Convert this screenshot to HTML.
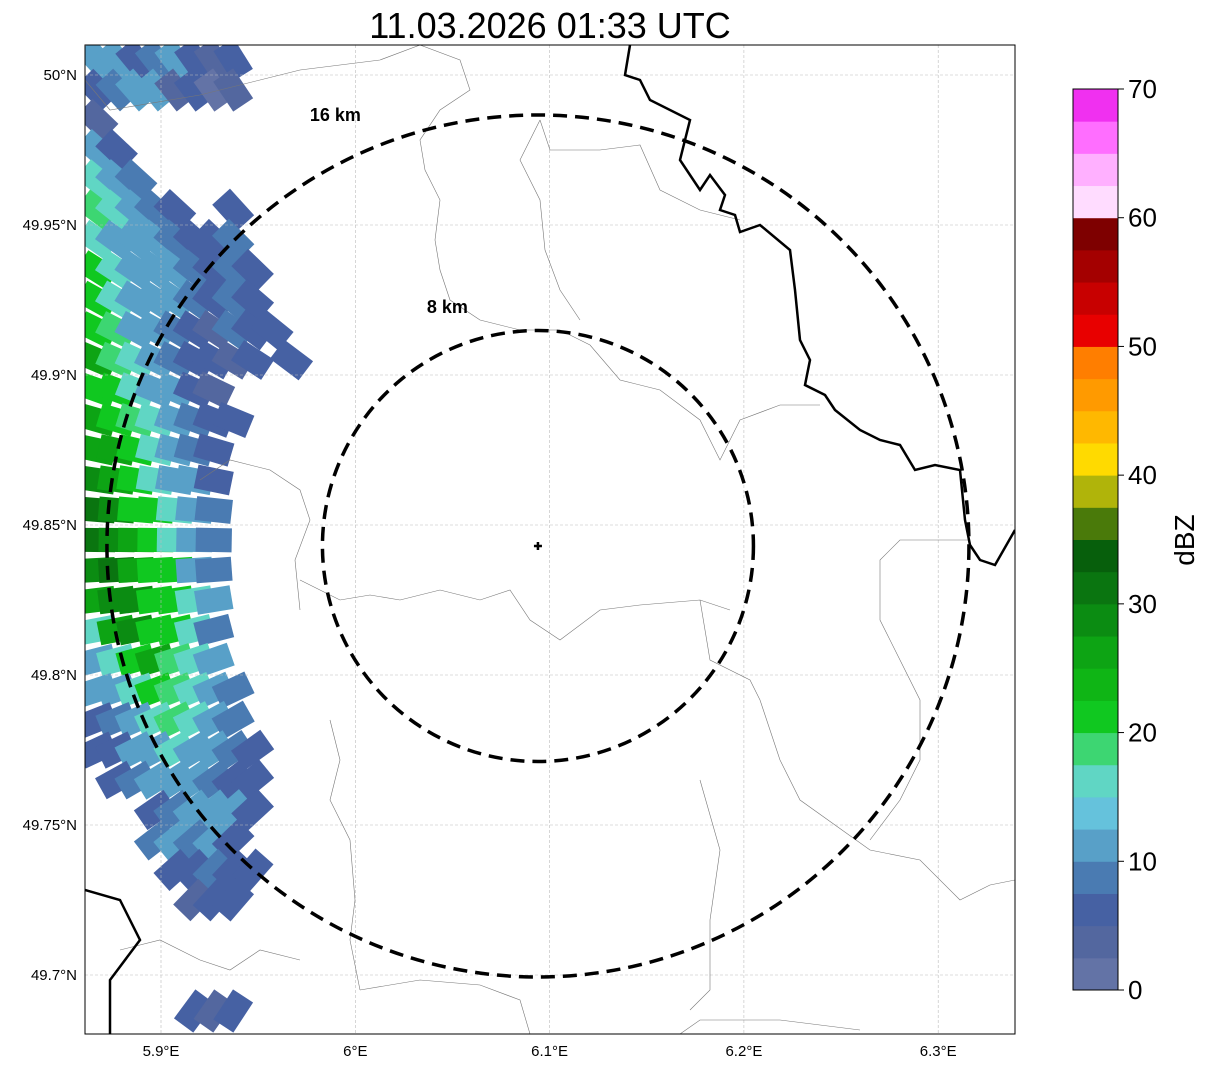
<!DOCTYPE html>
<html><head><meta charset="utf-8"><style>
body{margin:0;background:#fff;width:1207px;height:1069px;overflow:hidden;font-family:"Liberation Sans",sans-serif}
svg{position:absolute;left:0;top:0}
</style></head><body>
<svg id="chart" width="1207" height="1069">
<text x="550" y="38" font-size="36" text-anchor="middle">11.03.2026 01:33 UTC</text>
<defs><clipPath id="mapclip"><rect x="85" y="45" width="930" height="989"/></clipPath></defs>
<g id="map" clip-path="url(#mapclip)"></g>
<rect x="85" y="45" width="930" height="989" fill="none" stroke="#000" stroke-width="1"/>
<g id="axes"></g>
<g id="cbar"></g>
</svg>
<script>
const lonTicks=[5.9,6.0,6.1,6.2,6.3];
const lonLabels=["5.9°E","6°E","6.1°E","6.2°E","6.3°E"];
const latTicks=[50.0,49.95,49.9,49.85,49.8,49.75,49.7];
const latLabels=["50°N","49.95°N","49.9°N","49.85°N","49.8°N","49.75°N","49.7°N"];
const cbarTicks=[0,10,20,30,40,50,60,70];
const cbarColors=["#6373a6","#53679f","#4661a3","#4a7bb2","#58a0c8","#65c2dc","#60d6c4","#3dd672","#10c820","#0fb515","#0da414","#0b8c12","#0a7510","#075f0c","#4a7a0a","#b0b40a","#ffda00","#ffb800","#ff9a00","#ff7e00","#e80000","#c80000","#a40000","#7e0000","#ffdcff","#ffb0ff","#ff6eff","#f030f0"];
const radarLon=6.094, radarLat=49.843;
const ringKm=[16,8];
const ringLabelDx=[-0.47,-0.42];
const ringLabelDy=[-1.0,-1.11];
const rowLats=[50.005,49.995,49.985,49.975,49.965,49.955,49.945,49.935,49.925,49.915,49.905,49.895,49.885,49.875,49.865,49.855,49.845,49.835,49.825,49.815,49.805,49.795,49.785,49.775,49.765,49.755,49.745,49.735,49.725,49.688];
const rowStartLon=5.862;
const rowValues=[
[10,12,5,8,12,5,3,5],
[5,8,12,10,3,5,0,3],
[3,null,null,null,null,null,null,null],
[10,5,null,null,null,null,null],
[15,10,8,null,null,null],
[18,15,10,8,5,null,null,5],
[15,12,10,12,8,5,5,8],
[20,15,12,10,12,8,5,8,5],
[22,15,12,10,12,8,5,8,5],
[22,18,12,10,8,5,3,8,5,5],
[25,18,15,12,8,5,5,3,5,null,5],
[22,20,15,12,10,5,3,null],
[25,22,18,15,10,8,5,5],
[25,25,20,15,12,8,5],
[28,25,22,15,12,10,5],
[30,28,22,20,15,10,8],
[30,28,25,22,15,12,8],
[28,30,25,22,20,12,8],
[25,28,28,22,20,15,10],
[15,25,28,22,20,15,8],
[12,15,22,25,18,15,10],
[10,12,15,22,18,15,10,8],
[5,8,12,15,18,15,12,8],
[5,5,10,12,15,12,12,8,5],
[null,5,8,10,12,12,8,5,5],
[null,null,null,5,8,10,12,10,5],
[null,null,null,8,10,8,10,5],
[null,null,null,null,5,5,8,5,5],
[null,null,null,null,null,3,5,5],
[null,null,null,null,null,5,3,5]
];
const NS="http://www.w3.org/2000/svg";
const X=lon=>161+(lon-5.9)*1943;
const Y=lat=>75+(50-lat)*3000;
const C=v=>cbarColors[Math.max(0,Math.min(27,Math.floor(v/2.5)))];
function mk(tag,attrs,parent){const e=document.createElementNS(NS,tag);for(const k in attrs)e.setAttribute(k,attrs[k]);parent.appendChild(e);return e;}
const map=document.getElementById('map'),axes=document.getElementById('axes'),cb=document.getElementById('cbar');
const cx0=X(radarLon),cy0=Y(radarLat);
rowValues.forEach((row,ri)=>{row.forEach((v,ci)=>{if(v===null)return;
 const x=X(rowStartLon+ci*0.01)+10,y=Y(rowLats[ri]);
 const ang=Math.atan2(y-cy0,x-cx0)*180/Math.PI;
 const r=mk('rect',{x:x-18,y:y-12,width:36,height:24,fill:C(v),transform:`rotate(${ang} ${x} ${y})`},map);
 
 });});
lonTicks.forEach(t=>{const l=mk('line',{x1:X(t),x2:X(t),y1:45,y2:1034,stroke:'#bbb','stroke-width':0.6,'stroke-dasharray':'3,2'},map);});
latTicks.forEach(t=>{const l=mk('line',{x1:85,x2:1015,y1:Y(t),y2:Y(t),stroke:'#bbb','stroke-width':0.6,'stroke-dasharray':'3,2'},map);});
const grayLines=["M85,80 L110,110 L200,95 L300,70 L380,60 L420,45","M420,45 L460,60 L470,90 L440,110 L420,140 L425,170 L440,200 L435,240 L440,270 L450,300 L480,320 L520,330 L560,330 L590,345 L620,380 L660,390 L700,420 L720,460 L740,420 L780,405 L820,405","M540,120 L520,160 L540,200 L545,250 L560,290 L580,320","M540,120 L550,150 L600,150 L640,145 L660,190 L700,210 L740,220","M300,580 L320,590 L340,600 L370,595 L400,600 L440,590 L480,600 L510,590 L530,620 L560,640 L600,610 L640,605 L700,600 L730,610","M300,610 L295,560 L310,520 L300,490 L270,470 L230,460 L200,480","M700,600 L710,660 L750,680 L760,700 L780,760 L800,800 L870,850 L920,860 L960,900 L990,885 L1015,880","M970,540 L900,540 L880,560 L880,620 L900,660 L920,700 L920,760 L900,800 L870,840","M330,720 L340,760 L330,800 L350,840 L355,900 L350,940 L360,990","M360,990 L420,980 L480,985 L520,1000 L530,1034","M120,950 L160,940 L200,960 L230,970 L260,950 L300,960","M700,780 L720,850 L710,920 L710,990 L690,1010","M680,1034 L700,1020 L780,1020 L860,1030"];
grayLines.forEach(d=>{const p=mk('path',{d:d,fill:'none',stroke:'#777','stroke-width':0.6},map);});
const blackLines=["M630,45 L625,75 L640,80 L650,100 L690,120 L680,160 L700,190 L710,175 L725,195 L720,210 L735,215 L740,232 L760,225 L790,250 L795,290 L800,340 L810,360 L805,385 L825,395 L835,410 L860,430 L880,440 L900,445 L915,470 L935,465 L960,470 L965,520 L970,545 L980,560 L995,565 L1015,530","M85,890 L120,900 L140,940 L110,980 L110,1034"];
blackLines.forEach(d=>{const p=mk('path',{d:d,fill:'none',stroke:'#000','stroke-width':2.5},map);});
const pxPerKm=431/16;
ringKm.forEach((k,i)=>{const c=mk('circle',{cx:cx0,cy:cy0,r:k*pxPerKm,fill:'none',stroke:'#000','stroke-width':3.5,'stroke-dasharray':'14,8'},map);
 const t=mk('text',{x:cx0+k*pxPerKm*ringLabelDx[i],y:cy0+k*pxPerKm*ringLabelDy[i]+6,'font-size':18,'font-weight':'bold','text-anchor':'middle'},map);t.textContent=k+' km';});
const cr=mk('path',{d:`M${cx0-4},${cy0} H${cx0+4} M${cx0},${cy0-4} V${cy0+4}`,stroke:'#000','stroke-width':2.5},map);
lonTicks.forEach((t,i)=>{const e=mk('text',{x:X(t),y:1056,'font-size':15,'text-anchor':'middle'},axes);e.textContent=lonLabels[i];});
latTicks.forEach((t,i)=>{const e=mk('text',{x:77,y:Y(t)+5,'font-size':15,'text-anchor':'end'},axes);e.textContent=latLabels[i];});
const cbTop=89,cbBot=990,cbH=(cbBot-cbTop)/70;
cbarColors.forEach((c,i)=>{const r=mk('rect',{x:1073,y:cbBot-(i+1)*2.5*cbH,width:45,height:2.5*cbH+0.5,fill:c},cb);});
mk('rect',{x:1073,y:cbTop,width:45,height:cbBot-cbTop,fill:'none',stroke:'#000','stroke-width':1},cb);
cbarTicks.forEach(t=>{const y=cbBot-t*cbH;mk('line',{x1:1118,x2:1124,y1:y,y2:y,stroke:'#000'},cb);const e=mk('text',{x:1128,y:y+9,'font-size':26},cb);e.textContent=t;});
const lab=mk('text',{x:1194,y:540,'font-size':28,'text-anchor':'middle',transform:'rotate(-90 1194 540)'},cb);lab.textContent='dBZ';
</script>
</body></html>
